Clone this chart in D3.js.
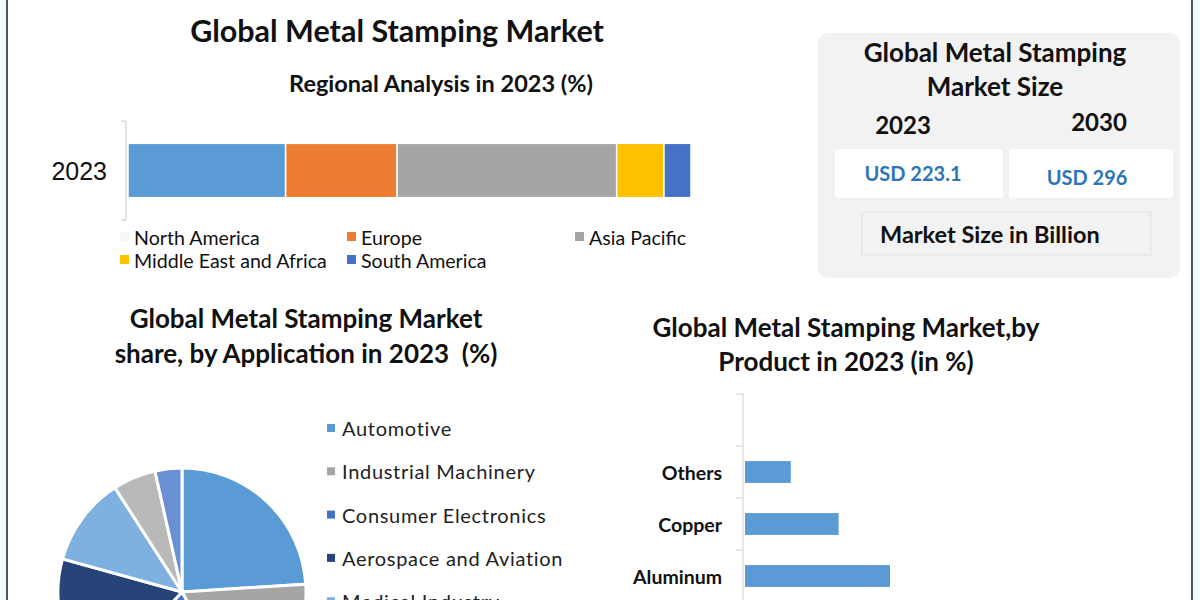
<!DOCTYPE html>
<html>
<head>
<meta charset="utf-8">
<script src="https://cdn.jsdelivr.net/npm/d3@7"></script>
<style>
  body { margin: 0; background: #f3fafc; }
  svg { display: block; }
  text { font-family: Lato, "Open Sans", sans-serif; fill: #111; }
</style>
</head>
<body>
<script>
let w = 1200;
let h = 600;

// regional split, 2023 (%)
let regions = ["North America", "Europe", "Asia Pacific", "Middle East and Africa", "South America"];
let regionShare = [28.0, 19.8, 39.0, 8.4, 4.8];
let regionColors = ["#5b9bd5", "#ed7d31", "#a5a5a5", "#ffc000", "#4472c4"];

// application split, 2023 (%)
let applications = ["Automotive", "Industrial Machinery", "Consumer Electronics",
    "Aerospace and Aviation", "Medical Industry", "Telecommunications", "Others"];
let applicationShare = [24, 18, 20, 17.3, 11.6, 5.6, 3.5];
let applicationColors = ["#5b9bd5", "#a5a5a5", "#4472c4", "#264478", "#7eb0e0", "#b9b9b9", "#6a8fd2"];

// product split, 2023 (%) - top band is empty in the source chart
let products = ["", "Others", "Copper", "Aluminum", "Steel"];
let productShare = [0, 9, 18.4, 28.5, 44.1];

// market size (USD billion)
let sizeYears = ["2023", "2030"];
let sizeValues = [223.1, 296];

let svg = d3.select("body")
    .append("svg")
    .attr("width", w)
    .attr("height", h);

// white page with the two dark side rules
svg.append("rect")
    .attr("x", 7).attr("y", 0)
    .attr("width", 1185).attr("height", h)
    .attr("fill", "#ffffff");
svg.append("line").attr("x1", 7).attr("x2", 7).attr("y1", 0).attr("y2", h)
    .attr("stroke", "#4b5a62").attr("stroke-width", 2);
svg.append("line").attr("x1", 1192).attr("x2", 1192).attr("y1", 0).attr("y2", h)
    .attr("stroke", "#4b5a62").attr("stroke-width", 2);

//---------- Regional stacked bar ----------
svg.append("text")
    .attr("x", 397).attr("y", 30)
    .attr("text-anchor", "middle").attr("dominant-baseline", "central")
    .style("font-size", "30.5px").style("font-weight", 700)
    .text("Global Metal Stamping Market");

svg.append("text")
    .attr("x", 441).attr("y", 83)
    .attr("text-anchor", "middle").attr("dominant-baseline", "central")
    .style("font-size", "23.5px").style("font-weight", 700)
    .text("Regional Analysis in 2023 (%)");

let xReg = d3.scaleLinear().domain([0, d3.sum(regionShare)]).range([128, 691]);
let yReg = d3.scaleBand().domain(["2023"]).range([121, 220]).paddingInner(0.44).paddingOuter(0.23);

let stackRows = [{}];
regions.forEach(function(r, i) { stackRows[0][r] = regionShare[i]; });
let series = d3.stack().keys(regions)(stackRows);

svg.selectAll("rect.reg")
    .data(series)
    .enter()
    .append("rect")
    .attr("class", "reg")
    .attr("x", function(d) { return xReg(d[0][0]); })
    .attr("width", function(d) { return xReg(d[0][1]) - xReg(d[0][0]); })
    .attr("y", yReg("2023"))
    .attr("height", yReg.bandwidth())
    .attr("fill", function(d, i) { return regionColors[i]; })
    .attr("stroke", "#ffffff")
    .attr("stroke-width", 1.5);

// category axis (Excel style: ticks on band edges)
svg.append("line")
    .attr("x1", 126).attr("x2", 126).attr("y1", 121).attr("y2", 220)
    .attr("stroke", "#c8c8c8");
[121, 220].forEach(function(y) {
    svg.append("line").attr("x1", 121).attr("x2", 126).attr("y1", y).attr("y2", y)
        .attr("stroke", "#c8c8c8");
});
svg.append("text")
    .attr("x", 107).attr("y", yReg("2023") + yReg.bandwidth() / 2)
    .attr("text-anchor", "end").attr("dominant-baseline", "central")
    .style("font-family", "'Liberation Sans', Arial, sans-serif")
    .style("font-size", "25px")
    .text("2023");

// legend, two rows
let legCols = [120, 347, 575];
let legRows = [237, 260];
let regLegend = svg.selectAll("g.regleg")
    .data(regions)
    .enter()
    .append("g")
    .attr("class", "regleg")
    .attr("transform", function(d, i) {
        return "translate(" + legCols[i % 3] + "," + legRows[Math.floor(i / 3)] + ")";
    });
regLegend.append("rect")
    .attr("x", 0).attr("y", -5).attr("width", 9).attr("height", 9)
    .attr("fill", function(d, i) { return i === 0 ? "#f6f6f6" : regionColors[i]; });
regLegend.append("text")
    .attr("x", 14).attr("y", 0)
    .attr("dominant-baseline", "central")
    .style("font-size", "19.6px")
    .text(function(d) { return d; });

//---------- Market size card ----------
svg.append("rect")
    .attr("x", 818).attr("y", 33).attr("width", 362).attr("height", 245)
    .attr("rx", 10).attr("fill", "#f2f2f2");

svg.append("text")
    .attr("x", 995).attr("y", 52)
    .attr("text-anchor", "middle").attr("dominant-baseline", "central")
    .style("font-size", "26px").style("font-weight", 700)
    .text("Global Metal Stamping");
svg.append("text")
    .attr("x", 995).attr("y", 86)
    .attr("text-anchor", "middle").attr("dominant-baseline", "central")
    .style("font-size", "26px").style("font-weight", 700)
    .text("Market Size");

let boxX = [835, 1009];
let boxW = [168, 164];
let yearX = [903, 1099];
let yearY = [124, 121];
let valY = [173, 177];
sizeYears.forEach(function(yr, i) {
    svg.append("text")
        .attr("x", yearX[i]).attr("y", yearY[i])
        .attr("text-anchor", "middle").attr("dominant-baseline", "central")
        .style("font-size", "24px").style("font-weight", 700)
        .text(yr);
    svg.append("rect")
        .attr("x", boxX[i]).attr("y", 149).attr("width", boxW[i]).attr("height", 49)
        .attr("rx", 3).attr("fill", "#ffffff");
    svg.append("text")
        .attr("x", boxX[i] + boxW[i] / 2 - (i === 0 ? 6 : 4)).attr("y", valY[i])
        .attr("text-anchor", "middle").attr("dominant-baseline", "central")
        .style("font-size", "20px").style("font-weight", 700)
        .style("fill", "#2e75b6")
        .text("USD " + sizeValues[i]);
});

svg.append("rect")
    .attr("x", 862).attr("y", 212).attr("width", 289).attr("height", 43)
    .attr("fill", "#f2f2f2").attr("stroke", "#e2e2e2");
svg.append("text")
    .attr("x", 880).attr("y", 234)
    .attr("dominant-baseline", "central")
    .style("font-size", "23.5px").style("font-weight", 700)
    .text("Market Size in Billion");

//---------- Application pie ----------
svg.append("text")
    .attr("x", 306).attr("y", 318)
    .attr("text-anchor", "middle").attr("dominant-baseline", "central")
    .style("font-size", "26px").style("font-weight", 700)
    .text("Global Metal Stamping Market");
svg.append("text")
    .attr("x", 306).attr("y", 353)
    .attr("text-anchor", "middle").attr("dominant-baseline", "central")
    .style("font-size", "26px").style("font-weight", 700)
    .style("white-space", "pre")
    .text("share, by Application in 2023  (%)");

let pie = d3.pie().sort(null).value(function(d) { return d; });
let arc = d3.arc().innerRadius(0).outerRadius(124);

svg.append("g")
    .attr("transform", "translate(182,592)")
    .selectAll("path")
    .data(pie(applicationShare))
    .enter()
    .append("path")
    .attr("d", arc)
    .attr("fill", function(d, i) { return applicationColors[i]; })
    .attr("stroke", "#ffffff")
    .attr("stroke-width", 3);

let appLegend = svg.selectAll("g.appleg")
    .data(applications)
    .enter()
    .append("g")
    .attr("class", "appleg")
    .attr("transform", function(d, i) { return "translate(327," + (428 + i * 43.3) + ")"; });
appLegend.append("rect")
    .attr("x", 0).attr("y", -4).attr("width", 8).attr("height", 8)
    .attr("fill", function(d, i) { return applicationColors[i]; });
appLegend.append("text")
    .attr("x", 15).attr("y", 0)
    .attr("dominant-baseline", "central")
    .style("font-size", "20px")
    .style("letter-spacing", "0.7px")
    .style("fill", "#222")
    .text(function(d) { return d; });

//---------- Product bars ----------
svg.append("text")
    .attr("x", 846).attr("y", 327)
    .attr("text-anchor", "middle").attr("dominant-baseline", "central")
    .style("font-size", "26px").style("font-weight", 700)
    .text("Global Metal Stamping Market,by");
svg.append("text")
    .attr("x", 846).attr("y", 361)
    .attr("text-anchor", "middle").attr("dominant-baseline", "central")
    .style("font-size", "26px").style("font-weight", 700)
    .text("Product in 2023 (in %)");

let xProd = d3.scaleLinear().domain([0, 50]).range([745, 999.4]);
let yProd = d3.scaleBand().domain(products).range([394, 394 + 52 * products.length])
    .paddingInner(0.58).paddingOuter(0.29);
let step = yProd.step();

svg.append("line")
    .attr("x1", 743).attr("x2", 743).attr("y1", 394).attr("y2", h)
    .attr("stroke", "#d0d0d0");
svg.selectAll("line.ptick")
    .data(products)
    .enter()
    .append("line")
    .attr("class", "ptick")
    .attr("x1", 736).attr("x2", 743)
    .attr("y1", function(d, i) { return 394 + i * step; })
    .attr("y2", function(d, i) { return 394 + i * step; })
    .attr("stroke", "#d0d0d0");

svg.selectAll("rect.prod")
    .data(products)
    .enter()
    .append("rect")
    .attr("class", "prod")
    .attr("x", xProd(0))
    .attr("y", function(d) { return yProd(d); })
    .attr("width", function(d, i) { return xProd(productShare[i]) - xProd(0); })
    .attr("height", yProd.bandwidth())
    .attr("fill", "#5b9bd5");

svg.selectAll("text.plabel")
    .data(products)
    .enter()
    .append("text")
    .attr("class", "plabel")
    .attr("x", 722)
    .attr("y", function(d) { return yProd(d) + yProd.bandwidth() / 2; })
    .attr("text-anchor", "end").attr("dominant-baseline", "central")
    .style("font-size", "19.5px").style("font-weight", 700)
    .text(function(d) { return d; });
</script>
</body>
</html>
